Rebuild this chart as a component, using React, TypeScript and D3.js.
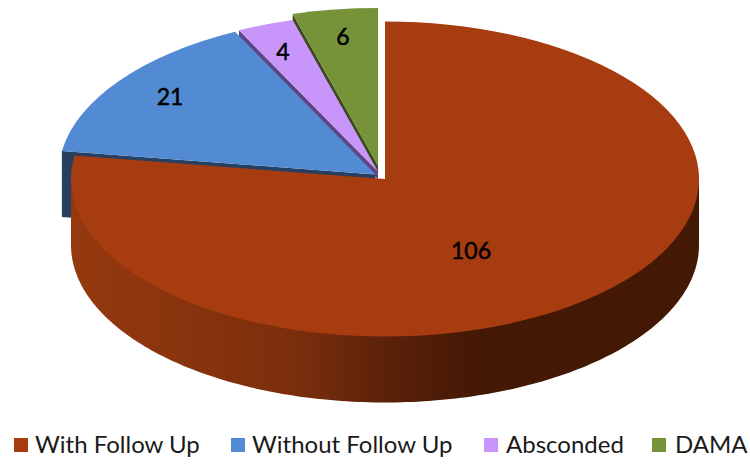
import React from "react";
import * as d3 from "d3";

const categories = ["With Follow Up", "Without Follow Up", "Absconded", "DAMA"];
const counts = [106, 21, 4, 6];

const topColors = ["#a63c0f", "#528bd3", "#c896fb", "#769339"];
const wallColors = ["#7a2d0c", "#254061", "#5f4585", "#3c4a1c"];

// Layout of the tilted disc and of each exploded wedge
const RX = 314;
const RY = 157.5;
const DEPTH = 66;
const sliceCenters: [number, number][] = [
  [385, 179],
  [375.5, 174.5],
  [378, 171.5],
  [378, 165.5],
];
const sliceScale = [1, 1.01, 1, 1];
const labelOffsets: [number, number][] = [
  [86, 71],
  [-205.5, -78.5],
  [-95, -120.5],
  [-35, -130],
];
const legendSwatchX = [14, 231, 484, 652];
const legendTextX = [35, 252, 506, 675];

const wallStops: [number, string][] = [
  [0, "#96390f"],
  [0.36, "#7b2e0c"],
  [0.5, "#5c220a"],
  [0.65, "#431805"],
  [1, "#431805"],
];

const pieLayout = d3.pie<number>().sort(null).value((d) => d)(counts);
const unitArc = d3.arc<d3.PieArcDatum<number>>().innerRadius(0).outerRadius(RX);

const rim = (a: number, c: [number, number], k = 1): [number, number] => [
  c[0] + k * RX * Math.sin(a),
  c[1] - k * RY * Math.cos(a),
];

// Outer side of the main slice: the front half of the ellipse pushed down by DEPTH.
// The upper boundary is the chord through the centre so the top face overlaps it fully.
function frontWall(c: [number, number]): string {
  const angles = d3.range(90, 270.5, 1).map((d) => (d * Math.PI) / 180);
  const bottom = angles.map((a) => {
    const [x, y] = rim(a, c);
    return [x, y + DEPTH] as [number, number];
  });
  const closed: [number, number][] = [[c[0] + RX, c[1]], ...bottom, [c[0] - RX, c[1]]];
  return (d3.line()(closed) ?? "") + "Z";
}

// Cut face below a radial edge of a wedge
function edgeWall(a: number, c: [number, number], depth: number, k: number): string {
  const p = rim(a, c, k);
  return d3.line()([c, p, [p[0], p[1] + depth], [c[0], c[1] + depth]]) + "Z";
}

export default function App() {
  const drawOrder = [3, 2, 1, 0];
  return (
    <svg
      width={750}
      height={464}
      style={{ position: "absolute", left: 0, top: 0, background: "#fff" }}
      fontFamily="Lato, sans-serif"
    >
      <defs>
        <linearGradient id="mainWall" gradientUnits="userSpaceOnUse" x1={71} x2={699} y1={0} y2={0}>
          {wallStops.map(([o, col]) => (
            <stop key={o} offset={o} stopColor={col} />
          ))}
        </linearGradient>
      </defs>

      {drawOrder.map((i) => {
        const slice = pieLayout[i];
        const c = sliceCenters[i];
        const k = sliceScale[i];
        return (
          <g key={categories[i]}>
            {i === 0 ? (
              <path d={frontWall(c)} fill="url(#mainWall)" />
            ) : (
              <path
                d={edgeWall(slice.startAngle, c, i === 1 ? DEPTH : 8, k)}
                fill={wallColors[i]}
              />
            )}
            <path
              d={unitArc(slice) ?? ""}
              transform={`translate(${c[0]},${c[1]}) scale(${k},${(k * RY) / RX})`}
              fill={topColors[i]}
            />
          </g>
        );
      })}

      {pieLayout.map((slice, i) => (
        <text
          key={i}
          x={sliceCenters[i][0] + labelOffsets[i][0]}
          y={sliceCenters[i][1] + labelOffsets[i][1]}
          textAnchor="middle"
          dominantBaseline="central"
          fontSize={23}
          stroke="#000"
          strokeWidth={0.5}
          fill="#000"
        >
          {slice.value}
        </text>
      ))}

      {categories.map((name, i) => (
        <g key={name}>
          <rect x={legendSwatchX[i]} y={438} width={14} height={14} fill={topColors[i]} />
          <text x={legendTextX[i]} y={453} fontSize={24} fill="#1a1a1a">
            {name}
          </text>
        </g>
      ))}
    </svg>
  );
}
